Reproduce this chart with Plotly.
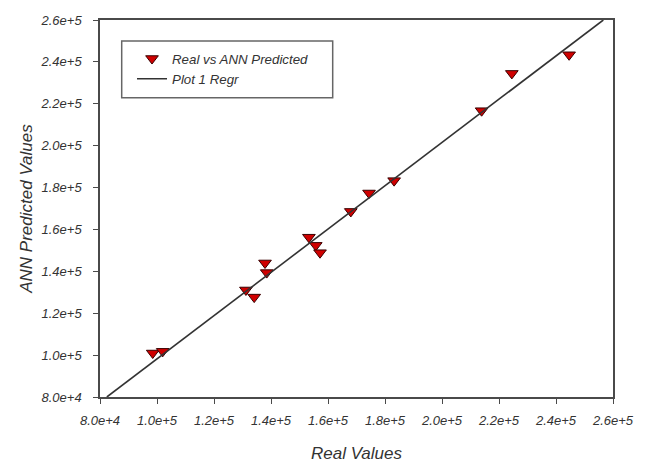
import plotly.graph_objects as go

# Data
real_values = [98500, 102000, 131200, 134100, 137900, 138500, 153300, 155700, 157200,
               168000, 174400, 183200, 213900, 224500, 244600]
ann_predicted = [101000, 101800, 131100, 127700, 144000, 139400, 156300, 152400, 148900,
                 168600, 177400, 183300, 216700, 234500, 243400]

# Regression line end points
regr_x = [82400, 256600]
regr_y = [80000, 260000]

tick_vals = [80000, 100000, 120000, 140000, 160000, 180000, 200000, 220000, 240000, 260000]
tick_text = ["8.0e+4", "1.0e+5", "1.2e+5", "1.4e+5", "1.6e+5", "1.8e+5", "2.0e+5",
             "2.2e+5", "2.4e+5", "2.6e+5"]

FONT = "Liberation Sans, Arial, sans-serif"
TXT = "#333333"
AX = "#4a4a4a"

fig = go.Figure()
fig.add_trace(go.Scatter(
    x=real_values, y=ann_predicted, mode="markers", name="Real vs ANN Predicted",
    marker=dict(symbol="triangle-down", size=11, color="#d00000",
                line=dict(color="#3a0000", width=1)),
))
fig.add_trace(go.Scatter(
    x=regr_x, y=regr_y, mode="lines", name="Plot 1 Regr",
    line=dict(color="#333333", width=1.6),
))

axis_common = dict(
    range=[80000, 260000], tickvals=tick_vals, ticktext=tick_text,
    showgrid=False, zeroline=False, showline=True, linecolor=AX, linewidth=1.5,
    mirror=True, ticks="outside", ticklen=5, tickcolor=AX, tickwidth=1.2,
    ticklabeloverflow="allow",
    tickfont=dict(family=FONT, size=13, color=TXT, style="italic"),
)

fig.update_xaxes(**axis_common, ticklabelstandoff=6,
                 title=dict(text="Real Values", standoff=20,
                            font=dict(family=FONT, size=17, color=TXT, style="italic")))
fig.update_yaxes(**axis_common, ticklabelstandoff=9,
                 title=dict(text="ANN Predicted Values", standoff=4,
                            font=dict(family=FONT, size=17, color=TXT, style="italic")))

# legend border box
fig.add_shape(type="rect", xref="paper", yref="paper",
              x0=0.0423, x1=0.4536, y0=0.794, y1=0.944,
              line=dict(color="#666666", width=1.5), fillcolor="white", layer="below")

fig.update_layout(
    width=639, height=457,
    margin=dict(l=92, r=34, t=5, b=63),
    paper_bgcolor="white", plot_bgcolor="white",
    showlegend=True,
    legend=dict(x=0.0624, y=0.938, xanchor="left", yanchor="top",
                bgcolor="rgba(0,0,0,0)", borderwidth=0,
                font=dict(family=FONT, size=13.3, color=TXT, style="italic"),
                tracegroupgap=0, itemwidth=30),
)

fig.write_html("out.html")
